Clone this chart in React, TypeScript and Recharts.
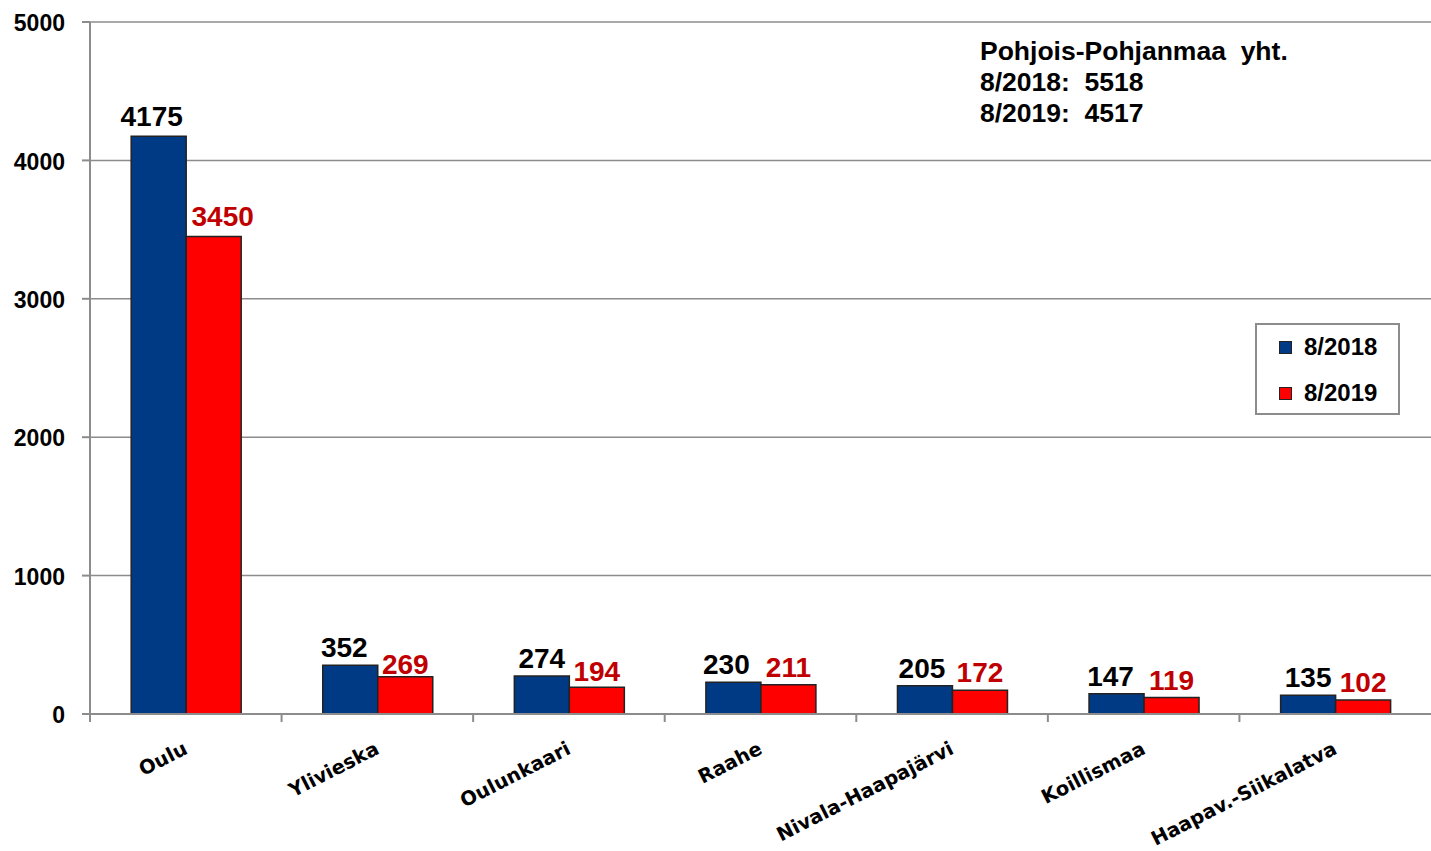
import React from 'react';
import { BarChart, Bar, XAxis, YAxis, CartesianGrid, LabelList } from 'recharts';

const categories = ['Oulu', 'Ylivieska', 'Oulunkaari', 'Raahe', 'Nivala-Haapajärvi', 'Koillismaa', 'Haapav.-Siikalatva'];
const values2018 = [4175, 352, 274, 230, 205, 147, 135];
const values2019 = [3450, 269, 194, 211, 172, 119, 102];
const yTicks = [0, 1000, 2000, 3000, 4000, 5000];
const seriesNames = ['8/2018', '8/2019'];
const summaryLines = ['Pohjois-Pohjanmaa  yht.', '8/2018:  5518', '8/2019:  4517'];

const data = categories.map((c, i) => ({ name: c, v2018: values2018[i], v2019: values2019[i] }));

// small label nudges (styling only), as in the original where labels were moved to avoid overlap
const NUDGE_2018: Record<string, [number, number]> = {
  Oulu: [-7, -2],
  Ylivieska: [-6, 0],
  Raahe: [-7, 0],
  'Nivala-Haapajärvi': [-3, 0],
  Koillismaa: [-6, 0],
};
const NUDGE_2019: Record<string, [number, number]> = {
  Oulu: [9, -3],
  Ylivieska: [0, 5],
  Oulunkaari: [0, 2],
};

const W = 1431;
const H = 851;
const Y_AXIS_W = 90;
const BAND = (W - Y_AXIS_W) / categories.length;
const BLUE = '#003A85';
const RED = '#FF0000';
const DARK_RED = '#C00000';
const GRID = '#8C8C8C';
const FONT = '"Liberation Sans", Arial, sans-serif';

const XTick = (props: any) => {
  const { x, y, payload } = props;
  return (
    <g>
      <line x1={x - BAND / 2} x2={x - BAND / 2} y1={y} y2={y + 8} stroke={GRID} strokeWidth={2} />
      <text
        transform={`translate(${x + 3}, ${y + 39}) rotate(-27)`}
        textAnchor="end"
        fontFamily='"DejaVu Sans", Verdana, sans-serif'
        fontWeight="bold"
        fontSize={19.5}
        fill="#000"
      >
        {payload.value}
      </text>
    </g>
  );
};

const makeLabel = (color: string, nudge: Record<string, [number, number]>) => (props: any) => {
  const { x, y, width, value, index } = props;
  const [dx, dy] = nudge[categories[index]] || [0, 0];
  return (
    <text
      x={x + width / 2 + dx}
      y={y - 8 + dy}
      textAnchor="middle"
      fontFamily={FONT}
      fontWeight="bold"
      fontSize={28}
      fill={color}
    >
      {value}
    </text>
  );
};

const LegendBox = () => (
  <div
    style={{
      position: 'absolute',
      left: 1255,
      top: 323,
      border: '2px solid #8C8C8C',
      width: 145,
      height: 92,
      boxSizing: 'border-box',
      background: '#fff',
      fontFamily: FONT,
      fontWeight: 'bold',
      fontSize: 24,
      paddingLeft: 22,
      paddingTop: 4,
    }}
  >
    {seriesNames.map((n, i) => (
      <div key={n} style={{ display: 'flex', alignItems: 'center', height: 36, marginBottom: i === 0 ? 10 : 0 }}>
        <span
          style={{
            display: 'inline-block',
            width: 11,
            height: 11,
            background: i === 0 ? BLUE : RED,
            border: '1px solid #222',
            marginRight: 12,
          }}
        />
        <span>{n}</span>
      </div>
    ))}
  </div>
);

export default function App() {
  return (
    <div style={{ position: 'absolute', left: 0, top: 0, width: W, height: H, background: '#fff' }}>
      <BarChart
        width={W}
        height={H}
        data={data}
        margin={{ top: 22, right: 0, bottom: 0, left: 0 }}
        barGap={0}
        barCategoryGap="21.5%"
      >
        <CartesianGrid vertical={false} stroke={GRID} strokeWidth={1.5} />
        <XAxis
          dataKey="name"
          height={137}
          interval={0}
          tickLine={false}
          tickSize={0}
          tickMargin={0}
          axisLine={{ stroke: GRID, strokeWidth: 2 }}
          tick={<XTick />}
        />
        <YAxis
          width={Y_AXIS_W}
          domain={[0, 5000]}
          ticks={yTicks}
          interval={0}
          axisLine={{ stroke: GRID, strokeWidth: 2 }}
          tickLine={{ stroke: GRID, strokeWidth: 2 }}
          tickSize={8}
          tickMargin={17}
          tick={{ fill: '#000', fontFamily: FONT, fontWeight: 'bold', fontSize: 23, dy: 1 }}
        />
        <Bar dataKey="v2018" name={seriesNames[0]} fill={BLUE} stroke="#222" strokeWidth={1.5} isAnimationActive={false}>
          <LabelList dataKey="v2018" content={makeLabel('#000', NUDGE_2018)} />
        </Bar>
        <Bar dataKey="v2019" name={seriesNames[1]} fill={RED} stroke="#222" strokeWidth={1.5} isAnimationActive={false}>
          <LabelList dataKey="v2019" content={makeLabel(DARK_RED, NUDGE_2019)} />
        </Bar>
      </BarChart>
      <LegendBox />
      <div
        style={{
          position: 'absolute',
          left: 980,
          top: 36,
          fontFamily: FONT,
          fontWeight: 'bold',
          fontSize: 26.5,
          lineHeight: '31px',
          color: '#000',
          whiteSpace: 'pre',
        }}
      >
        {summaryLines.map((l) => (
          <div key={l}>{l}</div>
        ))}
      </div>
    </div>
  );
}
